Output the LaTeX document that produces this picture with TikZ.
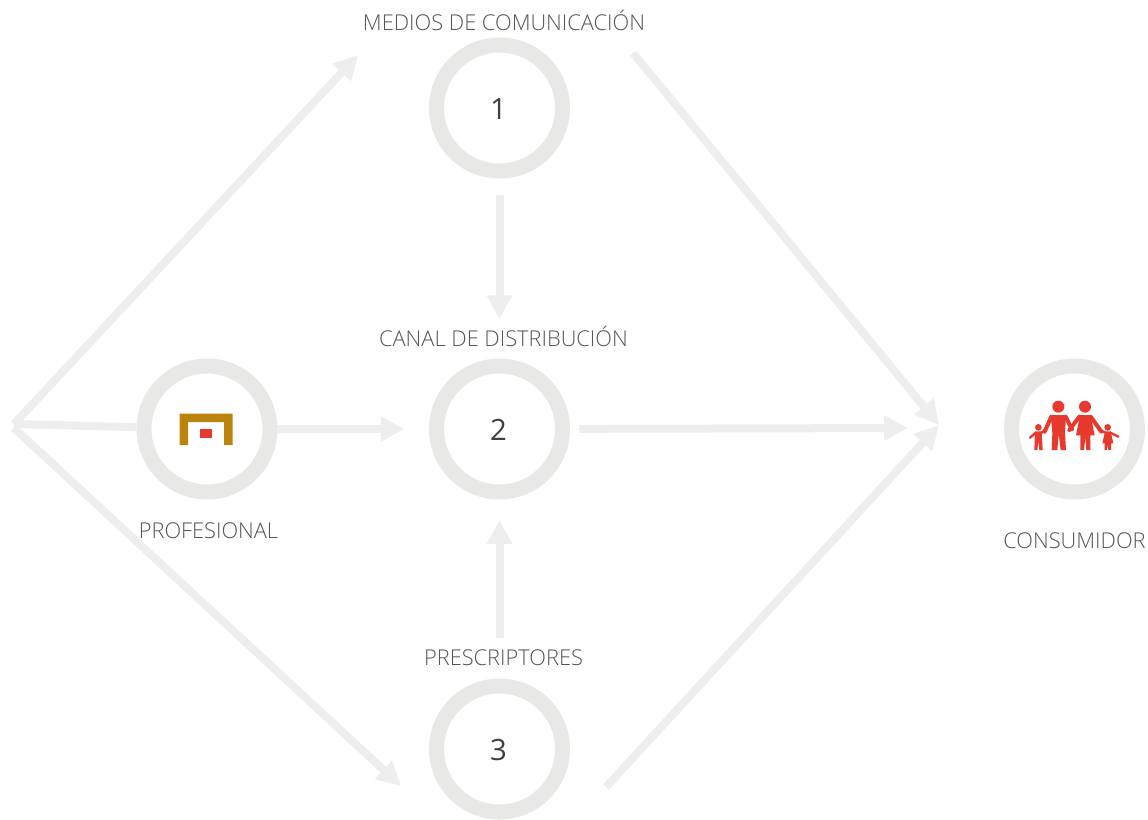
\documentclass[tikz,border=0pt]{standalone}
\usepackage{fontspec}
\setmainfont{Open Sans Light}
\newfontfamily\cifrafont{Open Sans}
\usetikzlibrary{arrows.meta}
\definecolor{anillogris}{HTML}{E8E8E6}
\definecolor{flechagris}{HTML}{EEEEEE}
\definecolor{textogris}{HTML}{555555}
\definecolor{iconorojo}{HTML}{E8392F}
\definecolor{iconooro}{HTML}{BC830F}
\tikzset{
  anillo/.style={circle,draw=anillogris,line width=11.25pt,minimum size=94.5pt,inner sep=0pt,outer sep=0pt},
  cifra/.style={inner sep=0pt,font=\cifrafont\fontsize{22}{24}\selectfont,text=black!75},
  rotulo/.style={inner sep=0pt,font=\fontsize{16.35}{18}\selectfont,text=textogris},
  flecha/.style={draw=flechagris,line width=6pt,-{Triangle[width=18pt,length=18pt]}},
  linea/.style={draw=flechagris,line width=6pt},
  brazo/.style={draw=iconorojo,line width=3pt,line cap=round}
}
\begin{document}
\begin{tikzpicture}[x=0.75pt,y=-0.75pt]
        \useasboundingbox (0,0) rectangle (1148,819);
        \newcommand{\figcolx}{499.5}
        \newcommand{\figfilay}{429}
        % anillos
        \node[anillo] (uno) at (\figcolx,108) {};
        \node[anillo] (dos) at (\figcolx,\figfilay) {};
        \node[anillo] (tres) at (\figcolx,749) {};
        \node[anillo] (profesional) at (207,\figfilay) {};
        \node[anillo] (consumidor) at (1074.5,\figfilay) {};
        \node[cifra] (numuno) at (498.5,109.5) {1};
        \node[cifra] (numdos) at (498.5,429.5) {2};
        \node[cifra] (numtres) at (498.5,750.5) {3};
        % rotulos
        \node[rotulo] (txtmedios) at (504,20.5) {MEDIOS DE COMUNICACIÓN};
        \node[rotulo] (txtcanal) at (503.5,336.5) {CANAL DE DISTRIBUCIÓN};
        \node[rotulo] (txtprofesional) at (208.5,531) {PROFESIONAL};
        \node[rotulo] (txtprescriptores) at (503.5,658) {PRESCRIPTORES};
        \node[rotulo] (txtconsumidor) at (1074.5,541) {CONSUMIDOR};
        % extremos libres
        \coordinate (origena) at (14,424);
        \coordinate (origenb) at (14,428);
        \coordinate (puntamedios) at (358,55);
        \coordinate (puntatres) at (401,786);
        \coordinate (salidauno) at (633,53);
        \coordinate (salidatres) at (606,787);
        \coordinate (puntaconsumidor) at (939,425);
        \coordinate (puntafila) at (908,428);
        % flechas
        \draw[flecha] (origena) -- (puntamedios);
        \draw[linea,shorten >=5.6pt] (origena) -- (profesional);
        \draw[flecha] (origenb) -- (puntatres);
        \draw[flecha,shorten <=5.25pt,shorten >=24pt] (profesional) -- (dos);
        \draw[flecha,shorten <=18pt,shorten >=35pt] (uno) -- (dos);
        \draw[flecha,shorten <=36pt,shorten >=21pt] (tres) -- (dos);
        \draw[flecha,shorten <=12.4pt] (dos) -- (puntafila);
        \draw[flecha] (salidauno) -- (puntaconsumidor);
        \draw[flecha] (salidatres) -- (puntaconsumidor);
        % logo profesional
        \fill[iconooro] (179.5,413.5) -- (232.5,413.5) -- (232.5,445) -- (224,445) -- (224,422) -- (188,422) -- (188,445) -- (179.5,445) -- cycle;
        \fill[iconorojo] (200,429) rectangle (212,438);
        % familia
        \begin{scope}[shift={(1000,350)},x=0.25pt,y=-0.25pt]
        \fill[iconorojo] (175,170) circle (18);
        \fill[iconorojo] (255,170) circle (18);
        \fill[iconorojo] (115,232) circle (10);
        \fill[iconorojo] (323,232) circle (10);
        \draw[brazo] (154,200) -- (134,245);
        \draw[brazo] (197,200) -- (216,238);
        \draw[brazo] (238,200) -- (208,240);
        \draw[brazo] (272,200) -- (304,245);
        \fill[iconorojo] (152,195) -- (198,195) -- (195,250) -- (198,300) -- (182,300) -- (176,252) -- (172,300) -- (155,300) -- (157,250) -- cycle;
        \fill[iconorojo] (240,195) -- (272,195) -- (284,256) -- (271,256) -- (271,300) -- (259,300) -- (256,262) -- (252,300) -- (241,300) -- (241,256) -- (228,256) -- cycle;
        \draw[brazo,line width=1.8pt] (107,248) -- (90,263);
        \draw[brazo,line width=1.8pt] (125,248) -- (136,238);
        \fill[iconorojo] (105,244) -- (125,244) -- (128,300) -- (118,300) -- (115,274) -- (112,300) -- (103,300) -- cycle;
        \draw[brazo,line width=1.8pt] (316,248) -- (301,240);
        \draw[brazo,line width=1.8pt] (331,248) -- (355,260);
        \fill[iconorojo] (315,244) -- (332,244) -- (340,280) -- (333,280) -- (333,300) -- (325,300) -- (323,284) -- (321,300) -- (314,300) -- (314,280) -- (307,280) -- cycle;
        \end{scope}
\end{tikzpicture}
\end{document}
